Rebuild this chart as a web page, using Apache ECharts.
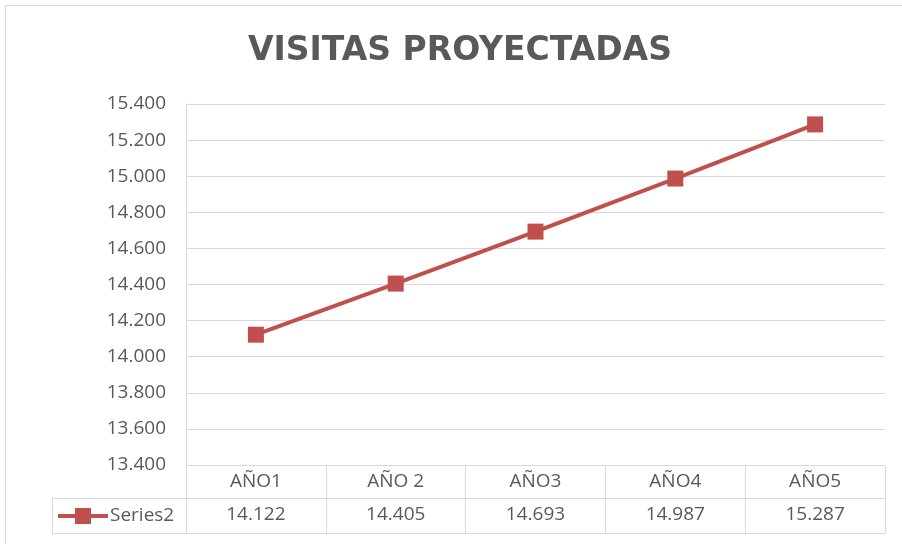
<!DOCTYPE html>
<html>
<head>
<meta charset="utf-8">
<script src="https://cdn.jsdelivr.net/npm/echarts@6/dist/echarts.min.js"></script>
<style>html,body{margin:0;padding:0;background:#fff;}#c{width:902px;height:544px;}</style>
</head>
<body>
<div id="c"></div>
<script>
var title = 'VISITAS PROYECTADAS';
var seriesName = 'Series2';
var categories = ['AÑO1', 'AÑO 2', 'AÑO3', 'AÑO4', 'AÑO5'];
var values = [14122, 14405, 14693, 14987, 15287];
var yMin = 13400, yMax = 15400, yStep = 200;

function fmt(v) {
  var s = String(Math.round(v));
  return s.replace(/\B(?=(\d{3})+(?!\d))/g, '.');
}

var FONT = 'Open Sans';
var GRAY = '#d9d9d9';
var TXT = '#595959';
var RED = '#C0504D';

var chart = echarts.init(document.getElementById('c'), null, {renderer: 'canvas'});
var option = {
  backgroundColor: '#fff',
  animation: false,
  title: {
    text: title, left: 243, top: 30,
    textStyle: {fontFamily: 'DejaVu Sans', fontSize: 33, fontWeight: 'bold', color: TXT}
  },
  grid: {left: 186, right: 17, top: 104, bottom: 79},
  xAxis: [{
    type: 'category', data: categories, boundaryGap: true, position: 'bottom',
    axisLine: {show: true, lineStyle: {color: GRAY, width: 1}},
    axisTick: {show: true, length: 33, lineStyle: {color: GRAY}},
    axisLabel: {margin: 7, fontFamily: FONT, fontSize: 19, color: TXT},
    splitLine: {show: false}
  }, {
    type: 'category', data: values.map(fmt), boundaryGap: true, position: 'bottom', offset: 33,
    axisLine: {show: true, lineStyle: {color: GRAY, width: 1}},
    axisTick: {show: true, length: 35, lineStyle: {color: GRAY}},
    axisLabel: {margin: 7, fontFamily: FONT, fontSize: 19, color: TXT},
    splitLine: {show: false}
  }],
  yAxis: {
    type: 'value', min: yMin, max: yMax, interval: yStep,
    axisLine: {show: true, lineStyle: {color: GRAY}},
    axisTick: {show: false},
    axisLabel: {margin: 20, fontFamily: FONT, fontSize: 19, color: TXT, formatter: fmt},
    splitLine: {show: true, lineStyle: {color: GRAY, width: 1}}
  },
  series: [{
    name: seriesName, type: 'line', data: values, xAxisIndex: 0,
    symbol: 'rect', symbolSize: 16,
    lineStyle: {color: RED, width: 4},
    itemStyle: {color: RED},
    label: {show: false}
  }],
  graphic: [
    {type: 'rect', shape: {x: 5.5, y: 5.5, width: 1000, height: 1000}, style: {fill: 'none', stroke: GRAY, lineWidth: 1}, silent: true},
    {type: 'line', shape: {x1: 52, y1: 498.5, x2: 186, y2: 498.5}, style: {stroke: GRAY, lineWidth: 1}},
    {type: 'line', shape: {x1: 52, y1: 533.5, x2: 885, y2: 533.5}, style: {stroke: GRAY, lineWidth: 1}},
    {type: 'line', shape: {x1: 52.5, y1: 498, x2: 52.5, y2: 534}, style: {stroke: GRAY, lineWidth: 1}},
    {type: 'line', shape: {x1: 58, y1: 516, x2: 108, y2: 516}, style: {stroke: RED, lineWidth: 4}},
    {type: 'rect', shape: {x: 75, y: 508, width: 16, height: 16}, style: {fill: RED}},
    {type: 'text', x: 110, y: 516, style: {text: seriesName, fontFamily: FONT, fontSize: 19, fill: TXT, verticalAlign: 'middle', align: 'left'}}
  ]
};
chart.setOption(option);
</script>
</body>
</html>
